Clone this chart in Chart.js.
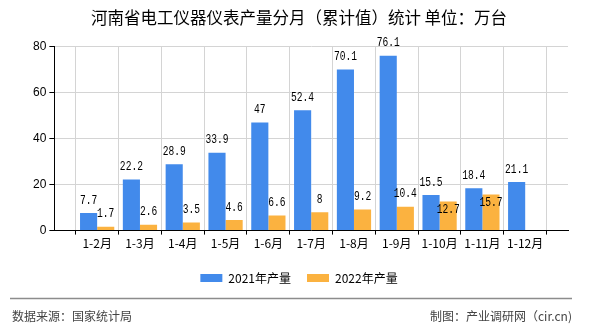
<!DOCTYPE html>
<html>
<head>
<meta charset="utf-8">
<script src="https://cdn.jsdelivr.net/npm/chart.js@4.4.1/dist/chart.umd.min.js"></script>
<style>
  html, body { margin: 0; padding: 0; background: #fff; }
  canvas { display: block; }
</style>
</head>
<body>
<canvas id="c" width="590" height="330"></canvas>
<script>
const titleText = '河南省电工仪器仪表产量分月（累计值）统计 单位：万台';
const categories = ['1-2月','1-3月','1-4月','1-5月','1-6月','1-7月','1-8月','1-9月','1-10月','1-11月','1-12月'];
const series2021 = [7.7, 22.2, 28.9, 33.9, 47, 52.4, 70.1, 76.1, 15.5, 18.4, 21.1];
const series2022 = [1.7, 2.6, 3.5, 4.6, 6.6, 8, 9.2, 10.4, 12.7, 15.7, null];
const seriesNames = ['2021年产量', '2022年产量'];
const yTicks = [0, 20, 40, 60, 80];
const sourceText = '数据来源：国家统计局';
const makerText = '制图：产业调研网（cir.cn)';

const BLUE = '#428AEB';
const ORANGE = '#FBB240';
const CJK = '"Noto Sans CJK SC", "Noto Sans", sans-serif';

// pad one empty slot on each side (axis spans half-slot beyond the outer categories)
const labels = [''].concat(categories, ['']);
const pad = arr => [null].concat(arr, [null]);

const valueLabels = {
  id: 'valueLabels',
  afterDatasetsDraw(chart) {
    const ctx = chart.ctx;
    const m0 = chart.getDatasetMeta(0);
    const m1 = chart.getDatasetMeta(1);
    const draw = (text, x, y) => {
      ctx.save();
      ctx.translate(x, y);
      ctx.scale(0.8, 1);
      ctx.font = '12px "Liberation Mono", "DejaVu Sans Mono", monospace';
      ctx.fillStyle = '#000';
      ctx.textAlign = 'center';
      ctx.textBaseline = 'middle';
      ctx.fillText(text, 0, 0);
      ctx.restore();
    };
    const d0 = chart.data.datasets[0].data;
    const d1 = chart.data.datasets[1].data;
    for (let i = 0; i < labels.length; i++) {
      let blueY = null;
      if (d0[i] != null) {
        const el = m0.data[i];
        blueY = el.y - 12.5;
        draw(String(d0[i]), el.x, blueY);
      }
      if (d1[i] != null) {
        const el = m1.data[i];
        let y = el.y - 12.5;
        if (blueY != null && Math.abs(y - blueY) < 10) y = el.y + 8;
        draw(String(d1[i]), el.x, y);
      }
    }
  }
};

const footer = {
  id: 'footer',
  afterDraw(chart) {
    const ctx = chart.ctx;
    ctx.save();
    ctx.strokeStyle = '#8c8c8c';
    ctx.lineWidth = 1.5;
    ctx.beginPath();
    ctx.moveTo(10, 298.5);
    ctx.lineTo(572, 298.5);
    ctx.stroke();
    ctx.font = '12px ' + CJK;
    ctx.fillStyle = '#444';
    ctx.textBaseline = 'middle';
    ctx.textAlign = 'left';
    ctx.fillText(sourceText, 12, 316);
    ctx.textAlign = 'right';
    ctx.fillText(makerText, 572, 316);
    ctx.restore();
  }
};

new Chart(document.getElementById('c'), {
  type: 'bar',
  data: {
    labels: labels,
    datasets: [
      { label: seriesNames[0], data: pad(series2021), backgroundColor: BLUE, categoryPercentage: 0.8, barPercentage: 1.0 },
      { label: seriesNames[1], data: pad(series2022), backgroundColor: ORANGE, categoryPercentage: 0.8, barPercentage: 1.0 }
    ]
  },
  options: {
    responsive: false,
    animation: false,
    devicePixelRatio: 1,
    layout: { padding: { top: 6, left: 30, right: 22, bottom: 36 } },
    plugins: {
      title: {
        display: true,
        text: titleText,
        color: '#000',
        font: { family: CJK, size: 16.5, weight: 'normal' },
        padding: { top: 2, bottom: 19 }
      },
      legend: {
        position: 'bottom',
        labels: {
          boxWidth: 22,
          boxHeight: 8,
          padding: 16,
          color: '#000',
          font: { family: CJK, size: 12 }
        }
      },
      tooltip: { enabled: false }
    },
    scales: {
      x: {
        type: 'category',
        offset: false,
        grid: { color: '#d4d4d4', tickColor: '#000', tickLength: 4, drawTicks: true },
        border: { color: '#000', width: 1 },
        ticks: { color: '#000', font: { family: CJK, size: 12 }, maxRotation: 0, autoSkip: false, padding: 2 },
        afterFit(axis) { axis.height += 3; }
      },
      y: {
        min: 0,
        max: 80,
        afterBuildTicks(axis) { axis.ticks = yTicks.map(v => ({ value: v })); },
        grid: { color: '#d4d4d4', tickColor: '#000', tickLength: 5 },
        border: { color: '#000', width: 1 },
        ticks: { color: '#000', font: { family: 'Liberation Sans, Arial, sans-serif', size: 12 }, padding: 3 }
      }
    }
  },
  plugins: [valueLabels, footer]
});
</script>
</body>
</html>
